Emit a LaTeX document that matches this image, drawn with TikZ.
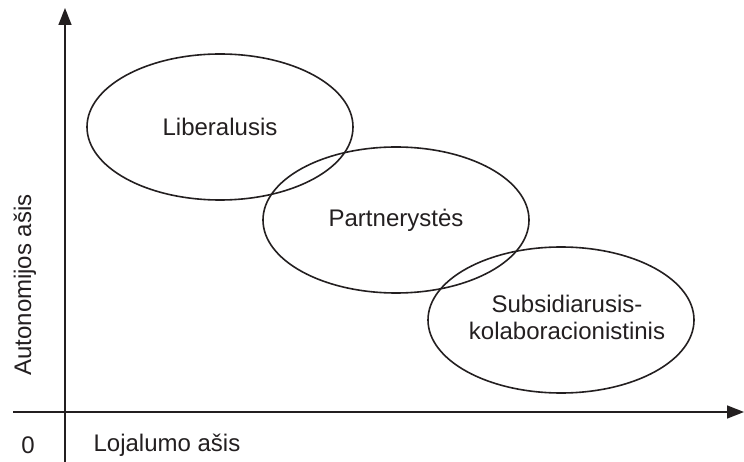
\documentclass[tikz,border=0pt]{standalone}
\usepackage{fontspec}
\setmainfont{Liberation Sans}
\usetikzlibrary{arrows.meta,shapes.geometric}
\definecolor{ink}{HTML}{231F20}
\begin{document}
\begin{tikzpicture}[x=1pt,y=-1pt,
  every node/.style={font=\fontsize{24}{27}\selectfont, text=ink},
  oval/.style={draw=ink, line width=1.6pt, ellipse, minimum width=266pt, minimum height=146pt, inner sep=0pt, align=center},
  axis/.style={draw=ink, line width=1.6pt, -{Triangle[length=17pt,width=13pt]}}]
\useasboundingbox (0,0) rectangle (744,462);
\coordinate (vb) at (65,462);
\coordinate (vt) at (65,8);
\coordinate (hl) at (13,412);
\coordinate (hr) at (744,412);
\draw[axis] (vb) -- (vt);
\draw[axis] (hl) -- (hr);
\node[oval] (lib) at (220,127) {Liberalusis};
\node[oval] (par) at (396,220) {Partnerystės};
\node[oval] (sub) at (561,320) {};
\node[align=center] (subtxt) at (567,317) {Subsidiarusis-\\kolaboracionistinis};
\node (zero) at (28,445) {0};
\node (xlab) at (167,445) {Lojalumo ašis};
\node[rotate=90] (ylab) at (25,285) {Autonomijos ašis};
\end{tikzpicture}
\end{document}
